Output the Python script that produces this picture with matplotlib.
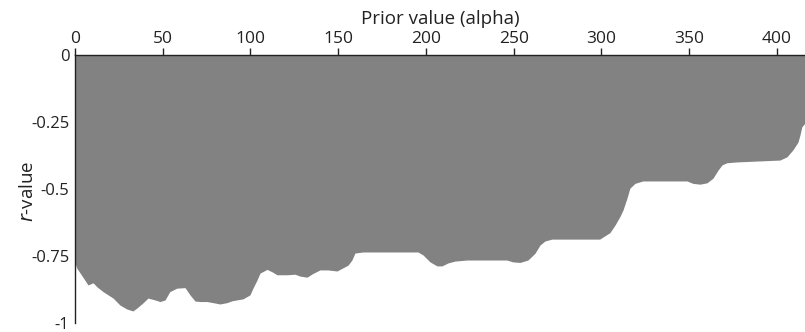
import matplotlib

matplotlib.use("Agg")
import matplotlib.pyplot as plt  # noqa: E402

plt.rcParams["font.family"] = ["Open Sans", "DejaVu Sans"]

alpha = [0, 1, 4.6, 7.4, 10.3, 12.5, 16, 21.7, 25.6, 29.6,
         33, 35.3, 38.7, 41.6, 45.6, 48.4, 51.3, 54, 58, 62.7,
         65.5, 68.4, 71.2, 75.2, 78.6, 82.6, 86.6, 89.5, 95.7, 99.7,
         101.4, 103.7, 105.4, 109.4, 112.3, 115.1, 120.8, 125.4, 128.2, 132.2,
         135.6, 139.6, 144.2, 149.3, 155.6, 157.8, 159.5, 164.1, 195.4, 198.3,
         202.3, 206.3, 209.1, 212.5, 216.5, 223.4, 246, 249.6, 253.6, 258.1,
         262.1, 265, 267.8, 271.8, 299, 300.9, 304.8, 307.7, 310.5, 312.3,
         314.5, 316.2, 319.1, 323.6, 348.7, 352.1, 356.1, 360.1, 363.5, 366.4,
         368.7, 371.5, 377.2, 401.7, 405.7, 409.1, 412, 413.1, 414.2, 416]
r_value = [-0.776, -0.795, -0.83, -0.858, -0.85, -0.865, -0.883, -0.907, -0.933, -0.948,
           -0.955, -0.944, -0.925, -0.907, -0.914, -0.92, -0.914, -0.883, -0.87, -0.868,
           -0.895, -0.918, -0.92, -0.92, -0.924, -0.929, -0.924, -0.917, -0.91, -0.895,
           -0.87, -0.84, -0.814, -0.8, -0.809, -0.82, -0.82, -0.818, -0.825, -0.829,
           -0.815, -0.802, -0.802, -0.806, -0.784, -0.765, -0.739, -0.735, -0.735, -0.746,
           -0.772, -0.787, -0.787, -0.776, -0.769, -0.765, -0.765, -0.772, -0.774, -0.765,
           -0.74, -0.709, -0.694, -0.687, -0.687, -0.679, -0.663, -0.635, -0.603, -0.578,
           -0.535, -0.497, -0.479, -0.47, -0.47, -0.479, -0.482, -0.477, -0.46, -0.43,
           -0.41, -0.402, -0.399, -0.392, -0.38, -0.354, -0.325, -0.299, -0.268, -0.254]
assert len(alpha) == len(r_value)

x_ticks = [0, 50, 100, 150, 200, 250, 300, 350, 400]
y_ticks = [0, -0.25, -0.5, -0.75, -1]
y_labels = ["0", "-0.25", "-0.5", "-0.75", "-1"]

fig = plt.figure(figsize=(8.05, 3.32), dpi=100, facecolor="white")
ax = fig.add_axes([75 / 805, 1 - 323 / 332, 730 / 805, 268 / 332])

ax.fill_between(alpha, 0, r_value, color="#828282", linewidth=0)

ax.set_xlim(0, 416)
ax.set_ylim(-1, 0)

ax.xaxis.tick_top()
ax.xaxis.set_label_position("top")
ax.set_xticks(x_ticks)
ax.set_yticks(y_ticks)
ax.set_yticklabels(y_labels)
ax.tick_params(axis="x", direction="out", length=5, width=1, pad=1,
               labelsize=12.5, colors="#222222")
ax.tick_params(axis="y", length=0, pad=4, labelsize=12, colors="#222222")

for side in ("right", "bottom"):
    ax.spines[side].set_visible(False)
for side in ("top", "left"):
    ax.spines[side].set_color("#222222")
    ax.spines[side].set_linewidth(1)

ax.set_xlabel("Prior value (alpha)", fontsize=13.5, labelpad=5, color="#222222")
ax.set_ylabel(r"$\it{r}$-value", fontsize=13.5, color="#222222")
ax.yaxis.set_label_coords(-0.052, 0.49)

fig.savefig("out.png", dpi=100)
